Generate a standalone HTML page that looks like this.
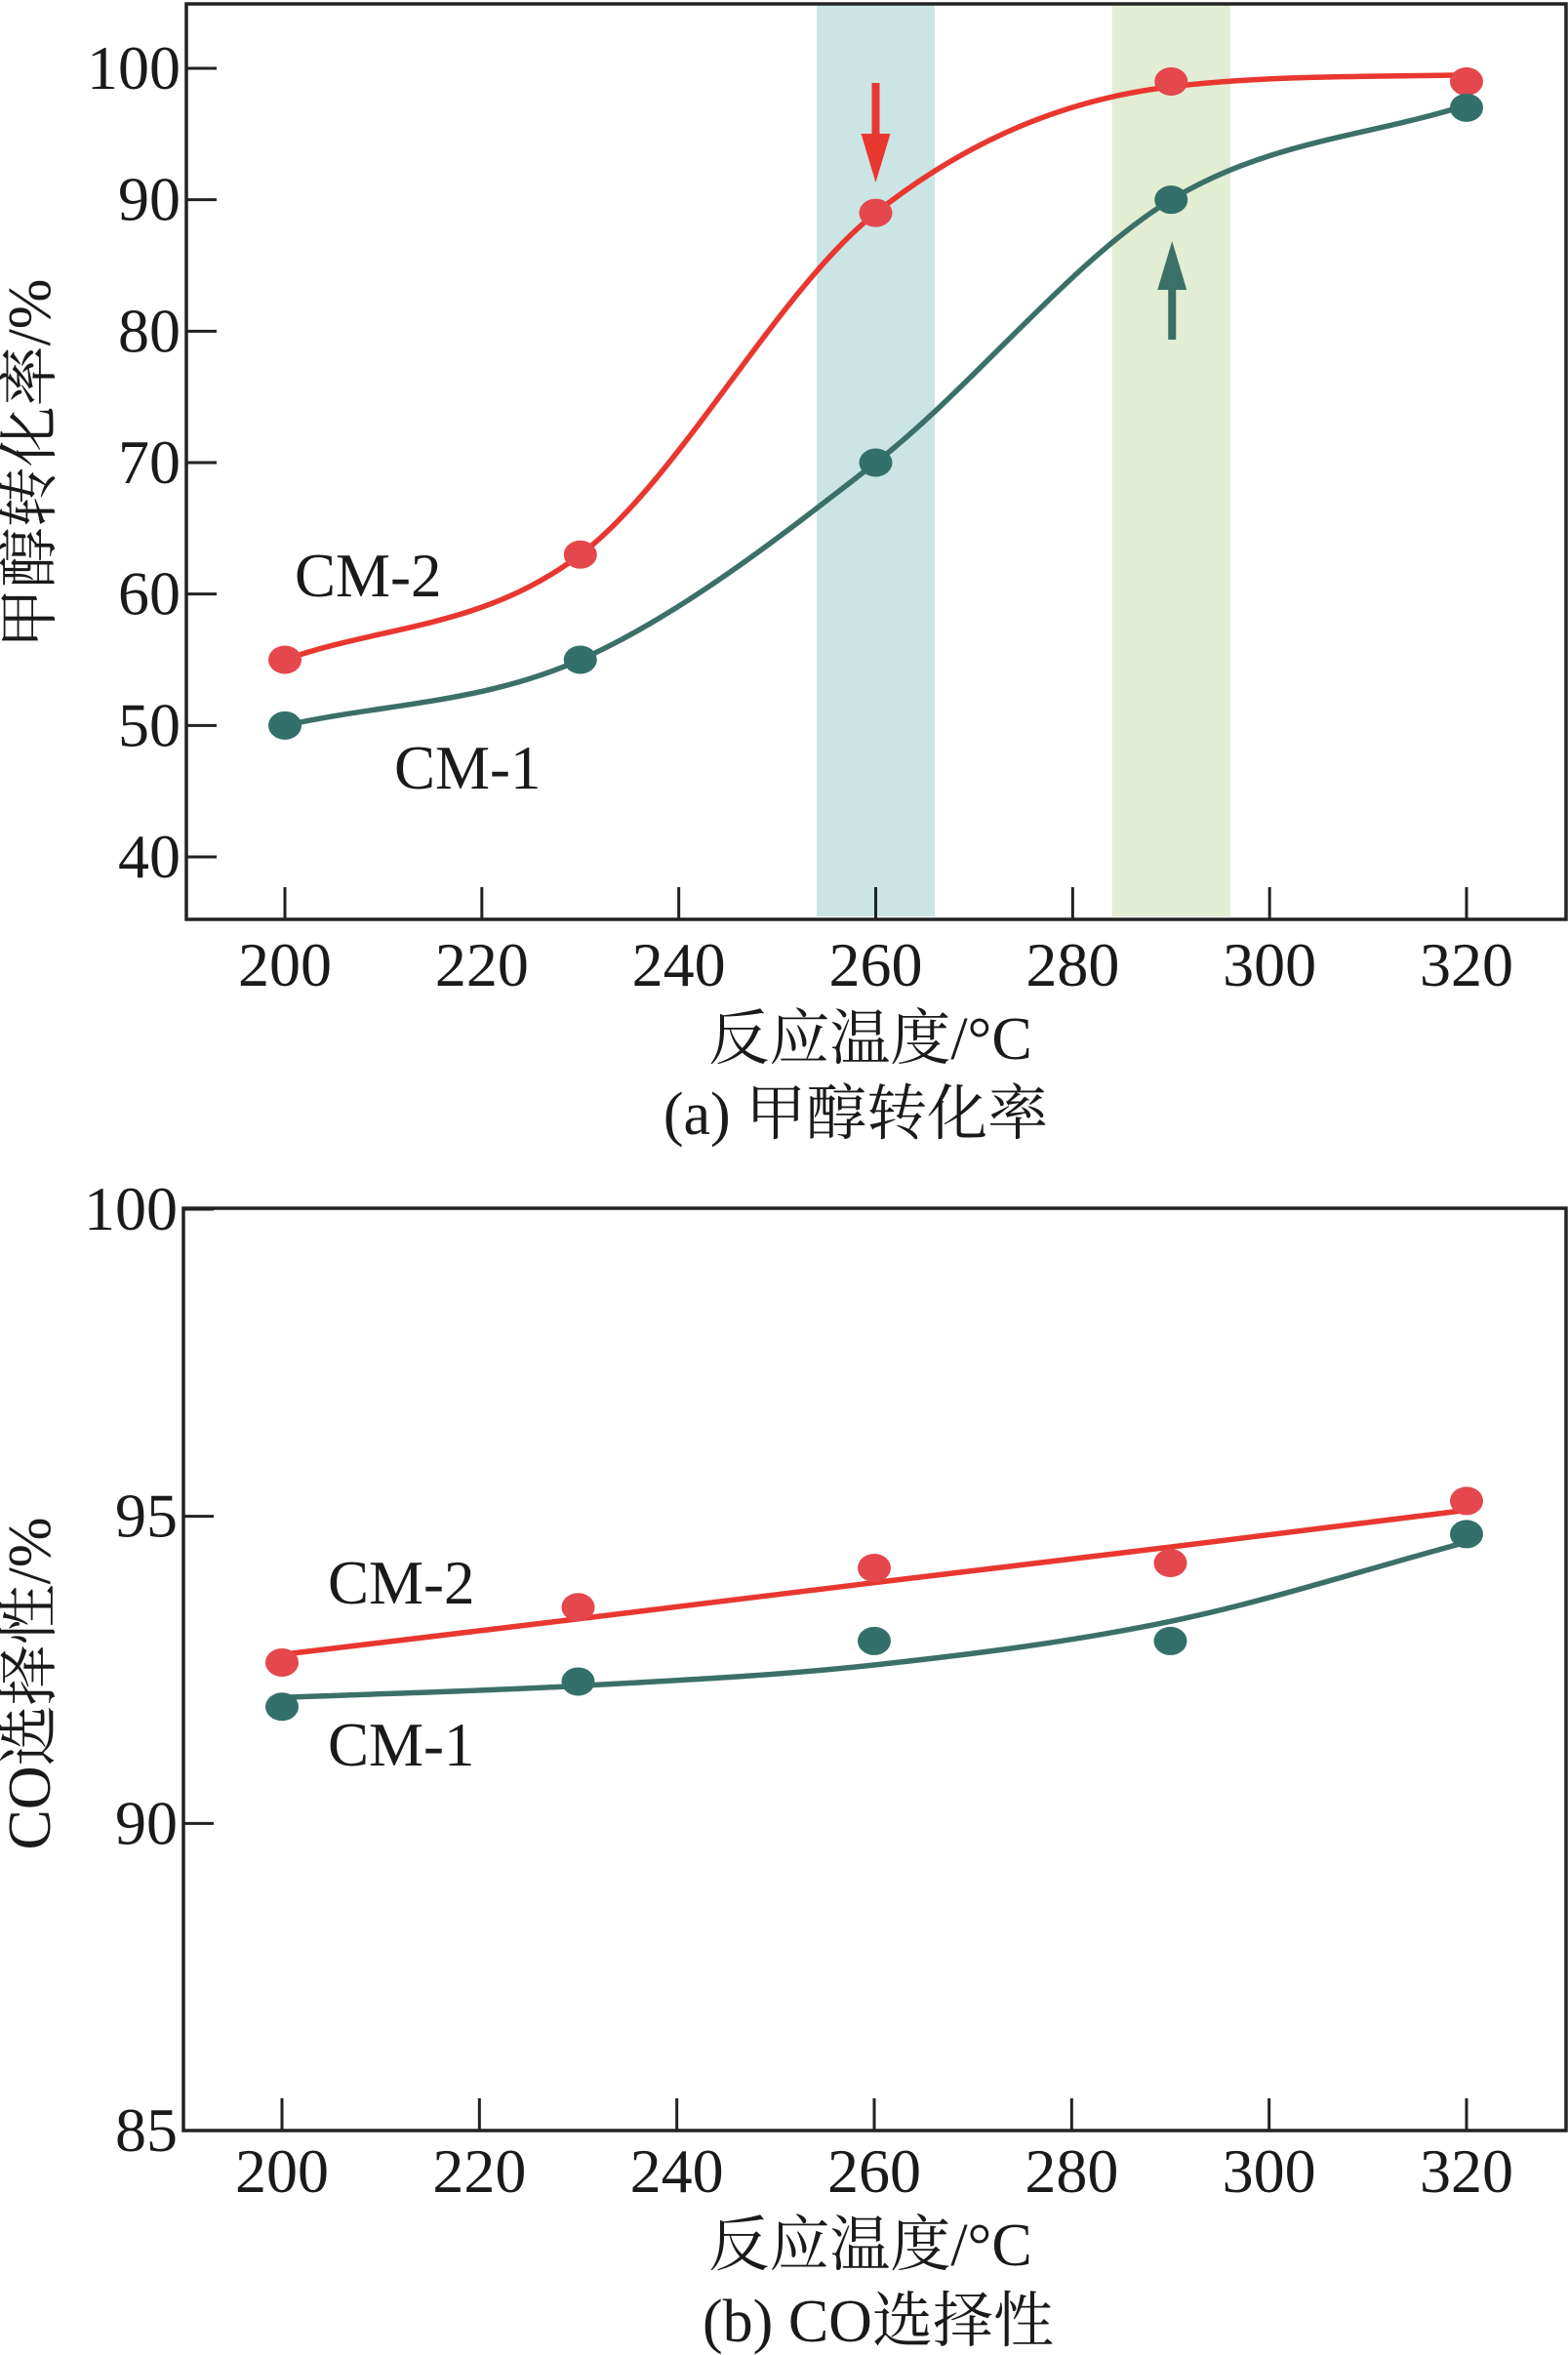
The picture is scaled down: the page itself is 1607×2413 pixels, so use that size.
<!DOCTYPE html>
<html><head><meta charset="utf-8"><style>
html,body{margin:0;padding:0;background:#fff;}
svg{display:block;}
text{font-family:"Liberation Serif","Noto Serif CJK SC","Noto Sans CJK SC",serif;fill:#1a1a1a;}
</style></head><body>
<svg id="chart" width="1607" height="2413" viewBox="0 0 1607 2413" xmlns="http://www.w3.org/2000/svg">
<g id="pa"></g>
<g id="pb"></g>
</svg>
<script>
// ---- data ----
const temps = [200, 230, 260, 290, 320];
const xTicks = [200, 220, 240, 260, 280, 300, 320];
const convCM2 = [55, 63, 89, 99, 99];
const convCM1 = [50, 55, 70, 90, 97];
const convFitCM2 = [55, 63, 89, 98.6, 99.5];
const convFitCM1 = [50, 55, 70, 90, 97.2];
const convYTicks = [40, 50, 60, 70, 80, 90, 100];
const bands = [[254, 266], [284, 296]];
const selCM2 = [92.62, 93.52, 94.16, 94.24, 95.25];
const selCM1 = [91.9, 92.31, 92.97, 92.97, 94.71];
const selFitCM2 = [92.75, 93.33, 93.92, 94.5, 95.1];
const selFitCM1 = [92.05, 92.24, 92.58, 93.29, 94.58];
const selYTicks = [85, 90, 95, 100];

const NS = 'http://www.w3.org/2000/svg';
const RED = '#e8372f', RED_M = '#e4474c', TEAL = '#3b7068', TEAL_M = '#33706a';
function mk(tag, attrs, parent) {
  const e = document.createElementNS(NS, tag);
  for (const k in attrs) e.setAttribute(k, attrs[k]);
  parent.appendChild(e); return e;
}
function monotonePath(pts) {
  const n = pts.length, d = [], m = [];
  for (let i = 0; i < n - 1; i++) d.push((pts[i+1][1]-pts[i][1])/(pts[i+1][0]-pts[i][0]));
  m[0] = d[0]; m[n-1] = d[n-2];
  for (let i = 1; i < n - 1; i++) m[i] = (d[i-1]*d[i] <= 0) ? 0 : (d[i-1]+d[i])/2;
  for (let i = 0; i < n - 1; i++) {
    if (d[i] === 0) { m[i] = 0; m[i+1] = 0; continue; }
    const a = m[i]/d[i], b = m[i+1]/d[i], s = a*a + b*b;
    if (s > 9) { const t = 3/Math.sqrt(s); m[i] = t*a*d[i]; m[i+1] = t*b*d[i]; }
  }
  let p = 'M' + pts[0][0] + ',' + pts[0][1];
  for (let i = 0; i < n - 1; i++) {
    const h = (pts[i+1][0]-pts[i][0])/3;
    p += ' C' + (pts[i][0]+h) + ',' + (pts[i][1]+m[i]*h) + ' ' + (pts[i+1][0]-h) + ',' + (pts[i+1][1]-m[i+1]*h) + ' ' + pts[i+1][0] + ',' + pts[i+1][1];
  }
  return p;
}

function panel(g, cfg) {
  const X = v => cfg.x0 + (v - 200) * (cfg.x1 - cfg.x0) / 120;
  const Y = v => cfg.yA + (cfg.vA - v) * (cfg.yB - cfg.yA) / (cfg.vA - cfg.vB);
  (cfg.bands || []).forEach((b, i) => {
    const r = mk('rect', {x: X(b[0]), y: cfg.top, width: X(b[1]) - X(b[0]), height: cfg.bot - cfg.top - 3, fill: i === 0 ? '#cbe5e4' : '#e2edd3'}, g);
    
    
  });
  cfg.yTicks.forEach(v => {
    const l = mk('line', {x1: cfg.left, x2: cfg.left + 31, y1: Y(v), y2: Y(v), stroke: '#222', 'stroke-width': 3}, g);
    
    
    const t = mk('text', {x: cfg.left - 6, y: Y(v) + 21, 'text-anchor': 'end', 'font-size': 64}, g);
    t.textContent = v;
    
    
  });
  xTicks.forEach(v => {
    const l = mk('line', {x1: X(v), x2: X(v), y1: cfg.bot, y2: cfg.bot - 33, stroke: '#222', 'stroke-width': 3}, g);
    
    
    const t = mk('text', {x: X(v), y: cfg.xLabY + 20, 'text-anchor': 'middle', 'font-size': 64}, g);
    t.textContent = v;
    
    
  });
  cfg.series.forEach(s => {
    const pts = temps.map((t, i) => [X(t), Y(s.fit[i])]);
    const p = mk('path', {d: s.straight ? 'M' + pts.map(q => q.join(',')).join(' L') : monotonePath(pts), fill: 'none', stroke: s.line, 'stroke-width': 5.5}, g);
    
    
  });
  cfg.series.forEach(s => {
    temps.forEach((t, i) => {
      const c = mk('ellipse', {cx: X(t), cy: Y(s.vals[i]), rx: 17, ry: 14.5, fill: s.mark}, g);
      
      
    });
  });
  const f = mk('rect', {x: cfg.left, y: cfg.top, width: cfg.right - cfg.left, height: cfg.bot - cfg.top, fill: 'none', stroke: '#222', 'stroke-width': 3.5}, g);
  
  
  return {X, Y};
}

const ga = document.getElementById('pa');
const A = panel(ga, {x0: 292, x1: 1503, left: 191, right: 1605, top: 4, bot: 942, yA: 70, vA: 100, yB: 878, vB: 40,
  yTicks: convYTicks, xLabY: 990, bands: bands,
  series: [{name: 'cm-2', vals: convCM2, fit: convFitCM2, line: RED, mark: RED_M},
           {name: 'cm-1', vals: convCM1, fit: convFitCM1, line: TEAL, mark: TEAL_M}]});
(function(){
  const ax = A.X(260);
  const a1 = mk('path', {d: `M${ax-4},85 H${ax+4} V137 H${ax+15} L${ax},187 L${ax-15},137 H${ax-4} Z`, fill: RED}, ga);
  
  
  const bx = A.X(290) + 1;
  const a2 = mk('path', {d: `M${bx-4},348 H${bx+4} V297 H${bx+15} L${bx},247 L${bx-15},297 H${bx-4} Z`, fill: TEAL}, ga);
  
  
})();

const gb = document.getElementById('pb');
panel(gb, {x0: 289, x1: 1503, left: 188, right: 1605, top: 1238, bot: 2183, yA: 1239, vA: 100, yB: 2183, vB: 85,
  yTicks: selYTicks, xLabY: 2226,
  series: [{name: 'cm-2', vals: selCM2, fit: selFitCM2, line: RED, mark: RED_M, straight: true},
           {name: 'cm-1', vals: selCM1, fit: selFitCM1, line: TEAL, mark: TEAL_M}]});
</script>
<svg style="position:absolute;left:0;top:0" width="1607" height="2413" viewBox="0 0 1607 2413" xmlns="http://www.w3.org/2000/svg">
  <text x="302" y="611" font-size="63">CM-2</text>
  <text x="404" y="808" font-size="63">CM-1</text>
  <text transform="translate(51,475) rotate(-90)" text-anchor="middle" font-size="62">甲醇转化率/%</text>
  <text x="892" y="1085" text-anchor="middle" font-size="62">反应温度/°C</text>
  <text x="877" y="1162" text-anchor="middle" font-size="62">(a) 甲醇转化率</text>

  <text x="336" y="1643" font-size="63">CM-2</text>
  <text x="336" y="1809" font-size="63">CM-1</text>
  <text transform="translate(51,1725) rotate(-90)" text-anchor="middle" font-size="62">CO选择性/%</text>
  <text x="892" y="2321" text-anchor="middle" font-size="62">反应温度/°C</text>
  <text x="900" y="2399" text-anchor="middle" font-size="62">(b) CO选择性</text>
</svg>
</body></html>
